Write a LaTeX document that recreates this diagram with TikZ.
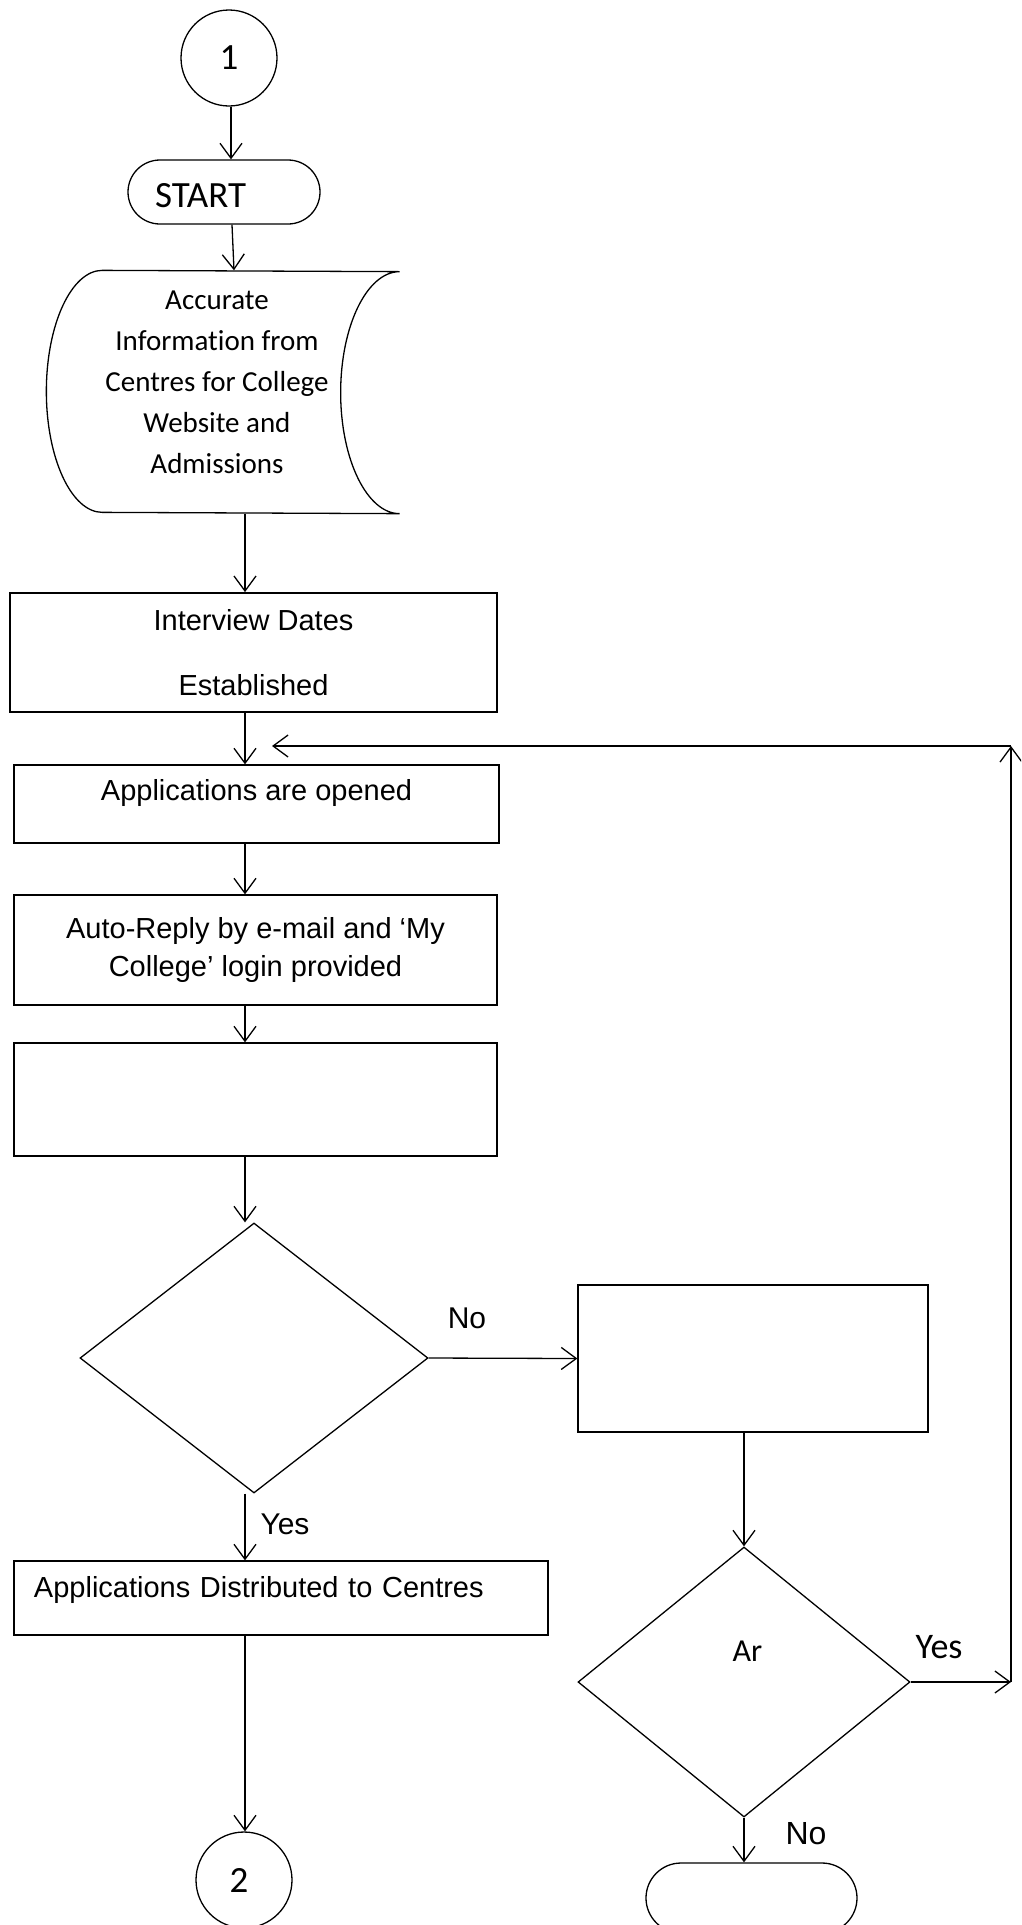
\documentclass[tikz,border=0pt]{standalone}
\usepackage{fontspec}
\setmainfont{Liberation Sans}
\newfontfamily\calibri[Ligatures=NoCommon]{Carlito}
\usetikzlibrary{shapes.geometric,arrows.meta}

\begin{document}
\begin{tikzpicture}[x=1pt, y=1pt, line width=1.3pt,
    arr/.style={-{Straight Barb[length=15pt,width=22pt]}},
    box/.style={draw, rectangle, inner sep=0pt, align=center, font=\fontsize{29}{38}\selectfont},
    conn/.style={draw, circle, inner sep=0pt, minimum size=96pt, font=\calibri\fontsize{37}{44}\selectfont},
    term/.style={draw, rectangle, rounded corners=32pt, inner sep=0pt},
    decision/.style={draw, diamond, inner sep=0pt},
    lbl/.style={font=\fontsize{30}{36}\selectfont}]
  \useasboundingbox (0,0) rectangle (1021,-1925);
  \clip (0,0) rectangle (1021,-1925);
  \coordinate (spine) at (245,0);

  \node[conn] (one) at (229,-58) {1};
  \node[term, minimum width=192pt, minimum height=64pt, text width=138pt, inner xsep=27pt,
        align=left, text height=32pt, font=\calibri\fontsize{37}{44}\selectfont] (start) at (224,-192) {START};
  \node[minimum width=352pt, minimum height=242pt, inner sep=0pt, align=center, text depth=20pt,
        font=\calibri\fontsize{29}{41}\selectfont] (info) at (217,-392)
        {Accurate\\Information from\\Centres for College\\Website and\\Admissions};
  \draw ([xshift=62pt]info.north west) arc[start angle=90, end angle=270, x radius=56pt, y radius=121pt]
        -- ([xshift=6pt]info.south east) arc[start angle=270, end angle=90, x radius=59pt, y radius=121pt] -- cycle;
  \node[box, line width=1.8pt, minimum width=487pt, minimum height=119pt,
        font=\fontsize{29}{65}\selectfont] (interview) at (253.5,-652.5) {Interview Dates\\Established};
  \node[box, minimum width=485pt, minimum height=78pt, text depth=28pt] (opened) at (256.5,-804) {Applications are opened};
  \node[box, minimum width=483pt, minimum height=110pt] (reply) at (255.5,-950)
        {Auto-Reply by e-mail and `My\\College' login provided};
  \node[box, minimum width=483pt, minimum height=113pt] (blank) at (255.5,-1099.5) {};
  \node[decision, minimum width=348pt, minimum height=270pt] (check) at (254,-1358) {};
  \node[box, minimum width=350pt, minimum height=147pt] (fix) at (753,-1358.5) {};
  \node[decision, minimum width=332pt, minimum height=270pt, text depth=62pt,
        font=\calibri\fontsize{32}{38}\selectfont] (again) at (744,-1682) {\kern7pt Ar};
  \node[term, rounded corners=35pt, minimum width=211pt, minimum height=70pt] (stop) at (751.5,-1898) {};
  \node[box, minimum width=534pt, minimum height=74pt, text width=494pt, inner xsep=20pt,
        align=left, text depth=22pt] (dist) at (281,-1598) {Applications Distributed to Centres};
  \node[conn] (two) at (244,-1880) {\kern-10pt 2};

  \node[lbl] (checkno) at (467,-1318) {No};
  \node[lbl] (checkyes) at (285,-1524) {Yes};
  \node[font=\calibri\fontsize{36}{42}\selectfont] (againyes) at (939,-1647) {Yes};
  \node[font=\fontsize{32}{38}\selectfont] (againno) at (806,-1834) {No};

  \coordinate (loopse) at (1011,-1682);
  \coordinate (loopne) at (1011,-746);
  \coordinate (loopin) at (272,-746);

  \draw[arr] ([xshift=2pt]one.south) -- ([xshift=2pt]one.south |- start.north);
  \draw[arr] ([xshift=8pt]start.south) -- ([xshift=17pt]info.north);
  \draw[arr] (info.south -| spine) -- (interview.north -| spine);
  \draw[arr] (interview.south -| spine) -- (opened.north -| spine);
  \draw[arr] (opened.south -| spine) -- (reply.north -| spine);
  \draw[arr] (reply.south -| spine) -- (blank.north -| spine);
  \draw[arr] (blank.south -| spine) -- (check.north -| spine);
  \draw[arr] (check.east) -- (fix.west);
  \draw[arr] (check.south -| spine) -- (dist.north -| spine);
  \draw[arr] (dist.south -| spine) -- (two.north -| spine);
  \draw[arr] (fix.south -| again.north) -- (again.north);
  \draw[arr] (again.south) -- (again.south |- stop.north);
  \draw[arr] (again.east) -- (loopse);
  \draw[arr] (loopse) -- (loopne);
  \draw[arr] (loopne) -- (loopin);
\end{tikzpicture}
\end{document}
